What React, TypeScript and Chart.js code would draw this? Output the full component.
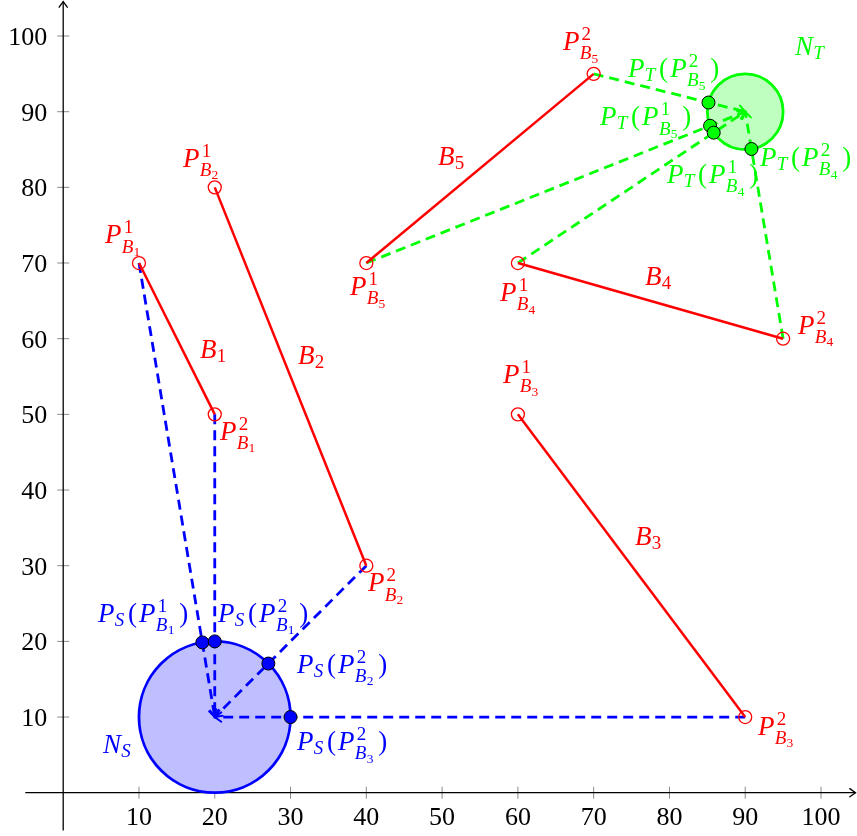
import React, { useEffect, useRef } from 'react';
import { Chart, registerables } from 'chart.js';

Chart.register(...registerables);

const W = 857;
const H = 836;

// ---- axes ----
const X_MIN = -8.34;
const X_MAX = 104.75;
const Y_MIN = -5.72;
const Y_MAX = 104.76;
const AXIS_START = -5;
const X_TICKS = [10, 20, 30, 40, 50, 60, 70, 80, 90, 100];
const Y_TICKS = [10, 20, 30, 40, 50, 60, 70, 80, 90, 100];

// ---- segments B1..B5 ----
const SEG_START_X = [10, 20, 60, 60, 40];
const SEG_START_Y = [70, 80, 50, 70, 70];
const SEG_END_X = [20, 40, 90, 95, 70];
const SEG_END_Y = [50, 30, 10, 60, 95];

// ---- neighbourhoods ----
const NS_CENTER = [20, 10];
const NS_RADIUS = 10;
const NT_CENTER = [90, 90];
const NT_RADIUS = 5;

// ---- projections onto N_S ----
const S_SRC_X = [10, 20, 40, 90];
const S_SRC_Y = [70, 50, 30, 10];
const S_PROJ_X = [18.36, 20, 27.07, 30];
const S_PROJ_Y = [19.86, 20, 17.07, 10];

// ---- projections onto N_T ----
const T_SRC_X = [70, 40, 60, 95];
const T_SRC_Y = [95, 70, 70, 60];
const T_PROJ_X = [85.15, 85.36, 85.84, 90.82];
const T_PROJ_Y = [91.21, 88.14, 87.23, 85.07];

const RED = '#ff0000';
const BLUE = '#0000ff';
const GREEN = '#00ff00';

// ---- labels: text, anchor (left / baseline in data units), colour ----
const LABELS: { t: string; x: number; y: number; c: string }[] = [
  { t: 'P_{B_1}^1', x: 5.52, y: 72.63, c: RED },
  { t: 'B_1', x: 18.05, y: 57.45, c: RED },
  { t: 'B_2', x: 30.98, y: 56.66, c: RED },
  { t: 'P_{B_1}^2', x: 20.69, y: 46.62, c: RED },
  { t: 'P_{B_2}^1', x: 15.81, y: 82.69, c: RED },
  { t: 'P_{B_2}^2', x: 40.21, y: 26.65, c: RED },
  { t: 'P_{B_5}^1', x: 37.84, y: 65.77, c: RED },
  { t: 'P_{B_4}^1', x: 57.64, y: 64.98, c: RED },
  { t: 'B_4', x: 76.77, y: 67.1, c: RED },
  { t: 'P_{B_3}^1', x: 58.03, y: 54.14, c: RED },
  { t: 'P_{B_4}^2', x: 96.96, y: 60.62, c: RED },
  { t: 'B_3', x: 75.45, y: 32.73, c: RED },
  { t: 'P_{B_3}^2', x: 91.69, y: 7.63, c: RED },
  { t: 'B_5', x: 49.45, y: 82.95, c: RED },
  { t: 'P_{B_5}^2', x: 65.95, y: 98.15, c: RED },
  { t: 'N_T', x: 96.57, y: 97.49, c: GREEN },
  { t: 'P_T(P_{B_5}^2)', x: 74.53, y: 94.58, c: GREEN },
  { t: 'P_T(P_{B_5}^1)', x: 70.83, y: 88.23, c: GREEN },
  { t: 'P_T(P_{B_4}^1)', x: 79.67, y: 80.57, c: GREEN },
  { t: 'P_T(P_{B_4}^2)', x: 91.94, y: 82.82, c: GREEN },
  { t: 'P_S(P_{B_1}^1)', x: 4.59, y: 22.56, c: BLUE },
  { t: 'P_S(P_{B_1}^2)', x: 20.43, y: 22.56, c: BLUE },
  { t: 'P_S(P_{B_2}^2)', x: 30.85, y: 15.82, c: BLUE },
  { t: 'P_S(P_{B_3}^2)', x: 30.85, y: 5.64, c: BLUE },
  { t: 'N_S', x: 5.25, y: 5.25, c: BLUE },
];

const FONT = '"Liberation Serif", "Times New Roman", serif';
const SIZES = [27, 19, 13.5];
const EXTRA = 0.08;

type Atom = { base: string; sub?: Atom[]; sup?: Atom[] };

function parseTex(s: string): Atom[] {
  let i = 0;
  function parseArg(): Atom[] {
    if (s[i] === '{') {
      i++;
      const g = parseGroup();
      i++;
      return g;
    }
    const a = { base: s[i] };
    i++;
    return [a];
  }
  function parseGroup(): Atom[] {
    const out: Atom[] = [];
    while (i < s.length && s[i] !== '}') {
      const c = s[i];
      if (c === '_' || c === '^') {
        i++;
        const arg = parseArg();
        const last = out[out.length - 1];
        if (c === '_') last.sub = arg;
        else last.sup = arg;
      } else if (c === '{') {
        i++;
        const g = parseGroup();
        i++;
        out.push(...g);
      } else {
        out.push({ base: c });
        i++;
      }
    }
    return out;
  }
  return parseGroup();
}

function renderAtoms(ctx: CanvasRenderingContext2D, atoms: Atom[], x: number, y: number, level: number): number {
  let cx = x;
  const size = SIZES[Math.min(level, 2)];
  for (const a of atoms) {
    const italic = /[A-Za-z]/.test(a.base);
    ctx.font = `${italic ? 'italic ' : ''}${size}px ${FONT}`;
    const w = ctx.measureText(a.base).width;
    ctx.fillText(a.base, cx, y);
    let adv = w + size * EXTRA;
    if (a.sub || a.sup) {
      const nl = Math.min(level + 1, 2);
      let end = cx + w;
      if (a.sup) {
        const sx = cx + w + (italic ? size * 0.08 : 0);
        const ws = renderAtoms(ctx, a.sup, sx, y - size * 0.385, nl);
        end = Math.max(end, sx + ws);
      }
      if (a.sub) {
        const bx = cx + w + (italic ? size * 0.01 : 0);
        const dy = a.sup ? size * 0.35 : size * 0.16;
        const wb = renderAtoms(ctx, a.sub, bx, y + dy, nl);
        end = Math.max(end, bx + wb);
      }
      adv = end - cx + size * EXTRA;
    }
    cx += adv;
  }
  return cx - x;
}

function drawArrowHead(ctx: CanvasRenderingContext2D, tx: number, ty: number, fx: number, fy: number, color: string, len: number, width: number) {
  const ang = Math.atan2(ty - fy, tx - fx);
  const spread = 0.62;
  ctx.save();
  ctx.strokeStyle = color;
  ctx.lineWidth = width;
  ctx.setLineDash([]);
  ctx.lineCap = 'round';
  ctx.beginPath();
  ctx.moveTo(tx - len * Math.cos(ang - spread), ty - len * Math.sin(ang - spread));
  ctx.lineTo(tx, ty);
  ctx.lineTo(tx - len * Math.cos(ang + spread), ty - len * Math.sin(ang + spread));
  ctx.stroke();
  ctx.restore();
}

const backgroundPlugin = {
  id: 'bgDraw',
  beforeDatasetsDraw(chart: any) {
    const ctx: CanvasRenderingContext2D = chart.ctx;
    const xs = chart.scales.x;
    const ys = chart.scales.y;
    const x0 = xs.getPixelForValue(0);
    const y0 = ys.getPixelForValue(0);
    ctx.save();
    // tick marks
    ctx.strokeStyle = '#8a8a8a';
    ctx.lineWidth = 1;
    for (const v of X_TICKS) {
      const px = xs.getPixelForValue(v);
      ctx.beginPath();
      ctx.moveTo(px, y0 - 6);
      ctx.lineTo(px, y0 + 6);
      ctx.stroke();
    }
    for (const v of Y_TICKS) {
      const py = ys.getPixelForValue(v);
      ctx.beginPath();
      ctx.moveTo(x0 - 6, py);
      ctx.lineTo(x0 + 6, py);
      ctx.stroke();
    }
    // axis lines
    ctx.strokeStyle = '#000';
    ctx.lineWidth = 1.3;
    const xEnd = xs.getPixelForValue(X_MAX) - 1.5;
    const yEnd = ys.getPixelForValue(Y_MAX) + 1.5;
    ctx.beginPath();
    ctx.moveTo(xs.getPixelForValue(AXIS_START), y0);
    ctx.lineTo(xEnd, y0);
    ctx.stroke();
    ctx.beginPath();
    ctx.moveTo(x0, ys.getPixelForValue(AXIS_START));
    ctx.lineTo(x0, yEnd);
    ctx.stroke();
    drawArrowHead(ctx, xEnd, y0, xEnd - 10, y0, '#000', 7, 1.3);
    drawArrowHead(ctx, x0, yEnd, x0, yEnd + 10, '#000', 7, 1.3);
    // tick labels
    ctx.fillStyle = '#000';
    ctx.font = `26px ${FONT}`;
    ctx.textAlign = 'center';
    ctx.textBaseline = 'alphabetic';
    for (const v of X_TICKS) {
      ctx.fillText(String(v), xs.getPixelForValue(v), y0 + 32);
    }
    ctx.textAlign = 'right';
    for (const v of Y_TICKS) {
      ctx.fillText(String(v), x0 - 16, ys.getPixelForValue(v) + 9);
    }
    // neighbourhood discs
    const discs = [
      { c: NS_CENTER, r: NS_RADIUS, fill: '#bfbfff', stroke: BLUE },
      { c: NT_CENTER, r: NT_RADIUS, fill: '#bfffbf', stroke: GREEN },
    ];
    for (const d of discs) {
      const cx = xs.getPixelForValue(d.c[0]);
      const cy = ys.getPixelForValue(d.c[1]);
      const rx = Math.abs(xs.getPixelForValue(d.c[0] + d.r) - cx);
      const ry = Math.abs(ys.getPixelForValue(d.c[1] + d.r) - cy);
      ctx.beginPath();
      ctx.ellipse(cx, cy, rx, ry, 0, 0, Math.PI * 2);
      ctx.fillStyle = d.fill;
      ctx.fill();
      ctx.strokeStyle = d.stroke;
      ctx.lineWidth = 2.8;
      ctx.stroke();
    }
    ctx.restore();
  },
  afterDatasetsDraw(chart: any) {
    const ctx: CanvasRenderingContext2D = chart.ctx;
    const xs = chart.scales.x;
    const ys = chart.scales.y;
    // arrow heads at the centres
    const groups = [
      { sx: S_SRC_X, sy: S_SRC_Y, c: NS_CENTER, col: BLUE },
      { sx: T_SRC_X, sy: T_SRC_Y, c: NT_CENTER, col: GREEN },
    ];
    for (const g of groups) {
      const tx = xs.getPixelForValue(g.c[0]);
      const ty = ys.getPixelForValue(g.c[1]);
      for (let i = 0; i < g.sx.length; i++) {
        drawArrowHead(ctx, tx, ty, xs.getPixelForValue(g.sx[i]), ys.getPixelForValue(g.sy[i]), g.col, 8, 2);
      }
    }
    // labels
    ctx.save();
    ctx.textAlign = 'left';
    ctx.textBaseline = 'alphabetic';
    for (const l of LABELS) {
      ctx.fillStyle = l.c;
      renderAtoms(ctx, parseTex(l.t), xs.getPixelForValue(l.x), ys.getPixelForValue(l.y), 0);
    }
    ctx.restore();
  },
};

export default function App() {
  const ref = useRef<HTMLCanvasElement | null>(null);
  useEffect(() => {
    if (!ref.current) return;
    const datasets: any[] = [];
    for (let i = 0; i < S_SRC_X.length; i++) {
      datasets.push({
        data: [{ x: S_SRC_X[i], y: S_SRC_Y[i] }, { x: NS_CENTER[0], y: NS_CENTER[1] }],
        showLine: true,
        borderColor: BLUE,
        borderWidth: 2.8,
        borderDash: [10, 6],
        pointRadius: 0,
        order: 3,
      });
    }
    for (let i = 0; i < T_SRC_X.length; i++) {
      datasets.push({
        data: [{ x: T_SRC_X[i], y: T_SRC_Y[i] }, { x: NT_CENTER[0], y: NT_CENTER[1] }],
        showLine: true,
        borderColor: GREEN,
        borderWidth: 2.8,
        borderDash: [10, 6],
        pointRadius: 0,
        order: 3,
      });
    }
    for (let i = 0; i < SEG_START_X.length; i++) {
      datasets.push({
        data: [{ x: SEG_START_X[i], y: SEG_START_Y[i] }, { x: SEG_END_X[i], y: SEG_END_Y[i] }],
        showLine: true,
        borderColor: RED,
        borderWidth: 2.5,
        pointRadius: 6.5,
        pointBorderWidth: 1.3,
        pointBorderColor: RED,
        pointBackgroundColor: 'rgba(0,0,0,0)',
        order: 2,
      });
    }
    datasets.push({
      data: S_PROJ_X.map((x, i) => ({ x, y: S_PROJ_Y[i] })),
      showLine: false,
      pointRadius: 6.5,
      pointBorderWidth: 1,
      pointBorderColor: '#000',
      pointBackgroundColor: BLUE,
      order: 1,
    });
    datasets.push({
      data: T_PROJ_X.map((x, i) => ({ x, y: T_PROJ_Y[i] })),
      showLine: false,
      pointRadius: 6.5,
      pointBorderWidth: 1,
      pointBorderColor: '#000',
      pointBackgroundColor: GREEN,
      order: 1,
    });

    const chart = new Chart(ref.current, {
      type: 'scatter',
      data: { datasets },
      options: {
        responsive: false,
        maintainAspectRatio: false,
        devicePixelRatio: 1,
        animation: false,
        layout: { padding: 0, autoPadding: false },
        plugins: { legend: { display: false }, tooltip: { enabled: false } },
        events: [],
        scales: {
          x: { type: 'linear', min: X_MIN, max: X_MAX, display: false },
          y: { type: 'linear', min: Y_MIN, max: Y_MAX, display: false },
        },
      },
      plugins: [backgroundPlugin],
    } as any);
    return () => chart.destroy();
  }, []);

  return (
    <div style={{ position: 'fixed', left: 0, top: 0, width: W, height: H, background: '#fff' }}>
      <canvas ref={ref} width={W} height={H} style={{ display: 'block', width: W, height: H }} />
    </div>
  );
}
